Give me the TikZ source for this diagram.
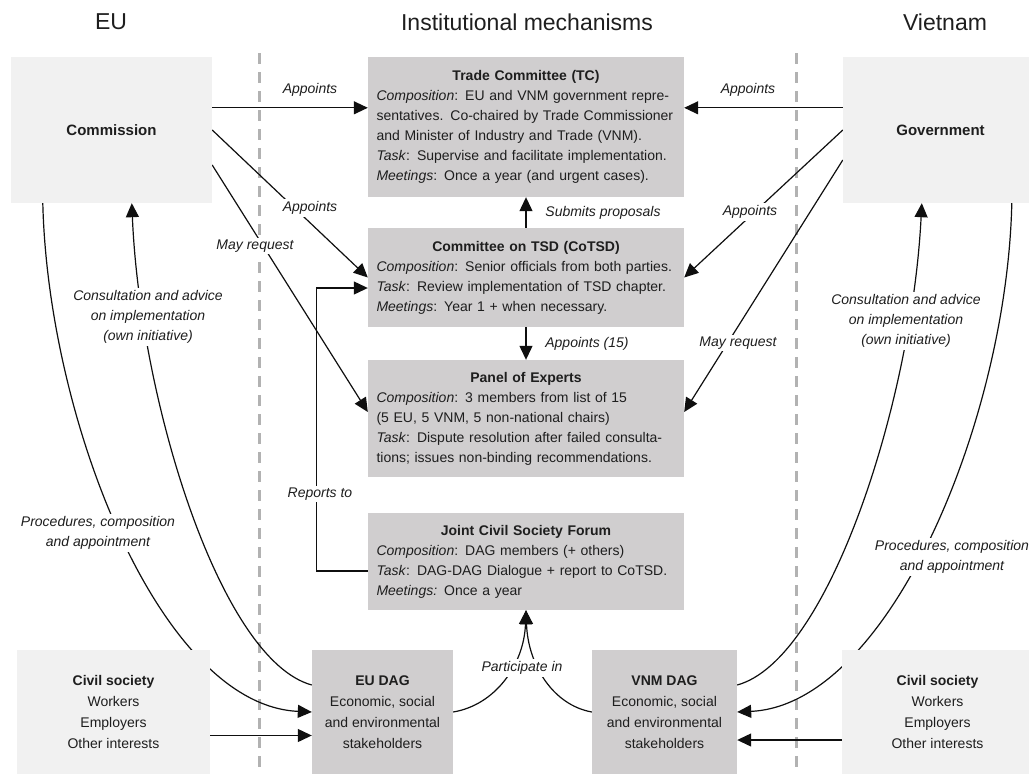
\documentclass[tikz,border=0pt]{standalone}
\usepackage{fontspec}
\setmainfont{Liberation Sans}
\usetikzlibrary{arrows.meta,calc}
\definecolor{lightbox}{RGB}{241,241,241}
\definecolor{midbox}{RGB}{208,206,207}
\definecolor{txt}{RGB}{30,30,30}
\definecolor{dashc}{RGB}{178,178,178}
\definecolor{edgec}{RGB}{15,15,15}
\pgfdeclarelayer{bgA}\pgfdeclarelayer{bgB}\pgfsetlayers{bgA,bgB,main}
\begin{document}
\begin{tikzpicture}[x=1pt,y=-1pt,
  every node/.style={text=txt, font=\fontsize{14}{20}\selectfont},
  lbox/.style={fill=lightbox, draw=none, inner sep=0pt, align=center},
  ibox/.style={fill=midbox, draw=none, minimum width=316pt, text width=299pt, inner xsep=8.5pt, inner ysep=0pt, align=left},
  dbox/.style={fill=midbox, draw=none, inner sep=0pt, align=center, font=\fontsize{14}{21}\selectfont},
  cbox/.style={fill=lightbox, draw=none, inner sep=0pt, align=center, font=\fontsize{14}{21}\selectfont},
  lab/.style={fill=white, inner sep=2pt, font=\fontsize{14}{20}\selectfont\itshape, align=center},
  hdr/.style={font=\fontsize{23}{26}\selectfont},
  nm/.style={font=\fontsize{15}{20}\selectfont\bfseries},
  arr/.style={-{Triangle[length=14pt,width=13pt]}, line width=1.2pt, draw=edgec},
  sep/.style={draw=dashc, line width=3pt, dash pattern=on 11pt off 8pt}
]
\useasboundingbox (0,0) rectangle (1029,774);

% headers
\node[hdr] (heu) at (111,22) {EU};
\node[hdr] (hinst) at (527,22) {Institutional mechanisms};
\node[hdr] (hvn) at (945,22) {Vietnam};

% actor boxes
\node[lbox, nm, minimum width=201pt, minimum height=146pt] (com) at (111.5,130) {Commission};
\node[lbox, nm, minimum width=195pt, minimum height=146pt] (gov) at (940.5,130) {Government};

% institutional boxes
\node[ibox, minimum height=140pt] (tc) at (526,127) {\makebox[\linewidth]{\bfseries Trade Committee (TC)}\\
\mbox{\textit{Composition}: EU and VNM government repre-}\\
\mbox{sentatives. Co-chaired by Trade Commissioner}\\
\mbox{and Minister of Industry and Trade (VNM).}\\
\mbox{\textit{Task}: Supervise and facilitate implementation.}\\
\mbox{\textit{Meetings}: Once a year (and urgent cases).}};

\node[ibox, minimum height=99pt] (cotsd) at (526,277.5) {\makebox[\linewidth]{\bfseries Committee on TSD (CoTSD)}\\
\mbox{\textit{Composition}: Senior officials from both parties.}\\
\mbox{\textit{Task}: Review implementation of TSD chapter.}\\
\mbox{\textit{Meetings}: Year 1 + when necessary.}};

\node[ibox, minimum height=117pt] (panel) at (526,418.5) {\makebox[\linewidth]{\bfseries Panel of Experts}\\
\mbox{\textit{Composition}: 3 members from list of 15}\\
\mbox{(5 EU, 5 VNM, 5 non-national chairs)}\\
\mbox{\textit{Task}: Dispute resolution after failed consulta-}\\
\mbox{tions; issues non-binding recommendations.}};

\node[ibox, minimum height=97pt] (jcsf) at (526,561.5) {\makebox[\linewidth]{\bfseries Joint Civil Society Forum}\\
\mbox{\textit{Composition}: DAG members (+ others)}\\
\mbox{\textit{Task}: DAG-DAG Dialogue + report to CoTSD.}\\
\mbox{\textit{Meetings:} Once a year}};

% bottom row
\node[cbox, minimum width=193pt, minimum height=124pt] (csl) at (113.5,712) {\textbf{Civil society}\\Workers\\Employers\\Other interests};
\node[dbox, minimum width=141pt, minimum height=124pt] (eudag) at (382.5,712) {\textbf{EU DAG}\\Economic, social\\and environmental\\stakeholders};
\node[dbox, minimum width=145pt, minimum height=124pt] (vnmdag) at (664.5,712) {\textbf{VNM DAG}\\Economic, social\\and environmental\\stakeholders};
\node[cbox, minimum width=191pt, minimum height=124pt] (csr) at (937.5,712) {\textbf{Civil society}\\Workers\\Employers\\Other interests};

% labels
\node[lab] (l1) at (310,90) {Appoints};
\node[lab] (l2) at (748,90) {Appoints};
\node[lab] (l3) at (310,208) {Appoints};
\node[lab] (l4) at (255,246) {May request};
\node[lab] (l5) at (750,212) {Appoints};
\node[lab] (l6) at (738,343) {May request};
\node[lab] (l7) at (603,213) {Submits proposals};
\node[lab] (l8) at (587,344) {Appoints (15)};
\node[lab] (l9) at (320,494) {Reports to};
\node[lab] (l10) at (522,668) {Participate in};
\node[lab] (l11) at (148,317) {Consultation and advice\\on implementation\\(own initiative)};
\node[lab] (l12) at (906,321) {Consultation and advice\\on implementation\\(own initiative)};
\node[lab] (l13) at (98,533) {Procedures, composition\\and appointment};
\node[lab] (l14) at (952,557) {Procedures, composition\\and appointment};

% separators
\begin{pgfonlayer}{bgA}
\draw[sep] (259,53) -- (259,780);
\draw[sep] (796,53) -- (796,780);
\end{pgfonlayer}

% connectors
\begin{pgfonlayer}{bgB}
\draw[arr] ([yshift=-51pt]com.north east) -- ([yshift=-51pt]tc.north west);
\draw[arr] ([yshift=-51pt]gov.north west) -- ([yshift=-51pt]tc.north east);
\draw[arr] (com.east) -- (cotsd.west);
\draw[arr] ([yshift=-35pt]com.east) -- ([yshift=6.5pt]panel.west);
\draw[arr] (gov.west) -- (cotsd.east);
\draw[arr] ([yshift=-30pt]gov.west) -- ([yshift=6.5pt]panel.east);
\draw[arr] (cotsd.north) -- (tc.south);
\draw[arr] (cotsd.south) -- (panel.north);
\draw[arr] ([yshift=-9.5pt]jcsf.west) -- ++(-51,0) |- ([yshift=-10.5pt]cotsd.west);
\draw[arr] (eudag.east) .. controls (495,705) and (524,665) .. (jcsf.south);
\draw[arr] (vnmdag.west) .. controls (553,705) and (528,665) .. (jcsf.south);
\draw[arr] ([xshift=32pt]com.south west) .. controls (48,420) and (160,705) .. (eudag.west);
\draw[arr] ([yshift=27pt]eudag.west) .. controls (220,660) and (140,400) .. ([xshift=121pt]com.south west);
\draw[arr] ([xshift=169pt]gov.south west) .. controls (1007,420) and (889,705) .. (vnmdag.east);
\draw[arr] ([yshift=27pt]vnmdag.east) .. controls (829,660) and (912,400) .. ([xshift=79pt]gov.south west);
\draw[arr] ([yshift=-23.5pt]csl.east) -- ([yshift=-23.5pt]eudag.west);
\draw[arr] ([yshift=-28pt]csr.west) -- ([yshift=-28pt]vnmdag.east);
\end{pgfonlayer}
\end{tikzpicture}
\end{document}
